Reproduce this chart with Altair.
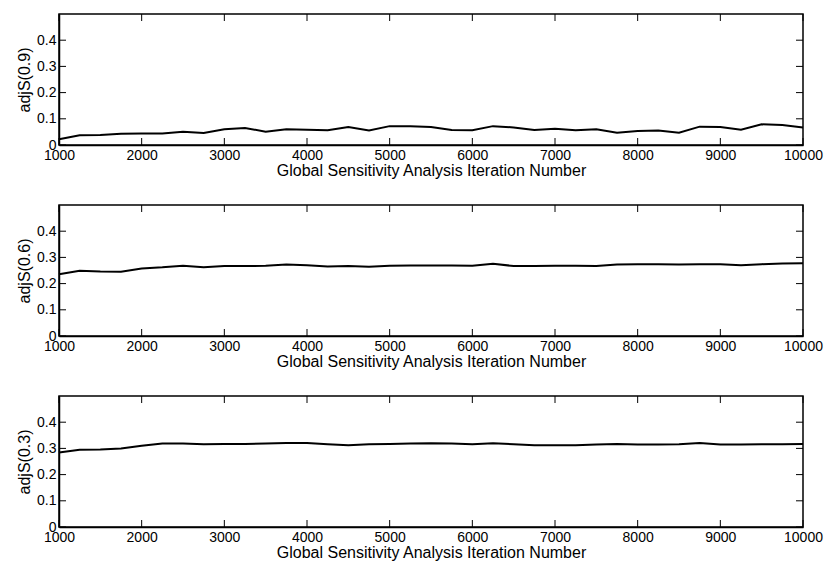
import altair as alt
import pandas as pd

# Sampled iteration counts and the three adjusted-sensitivity series
iterations = list(range(1000, 10001, 250))

adj_s_09 = [0.022, 0.037, 0.038, 0.043, 0.044, 0.044, 0.051, 0.046, 0.060, 0.065,
            0.051, 0.060, 0.058, 0.056, 0.069, 0.055, 0.072, 0.072, 0.069, 0.057,
            0.056, 0.072, 0.067, 0.057, 0.062, 0.056, 0.060, 0.047, 0.053, 0.055,
            0.047, 0.070, 0.069, 0.058, 0.079, 0.076, 0.067]

adj_s_06 = [0.236, 0.249, 0.246, 0.245, 0.258, 0.262, 0.268, 0.262, 0.267, 0.267,
            0.268, 0.273, 0.270, 0.265, 0.267, 0.264, 0.268, 0.269, 0.269, 0.269,
            0.268, 0.276, 0.267, 0.267, 0.268, 0.268, 0.267, 0.273, 0.274, 0.274,
            0.273, 0.274, 0.274, 0.270, 0.274, 0.277, 0.278]

adj_s_03 = [0.284, 0.295, 0.296, 0.300, 0.310, 0.319, 0.319, 0.316, 0.317, 0.317,
            0.319, 0.321, 0.321, 0.316, 0.312, 0.316, 0.317, 0.319, 0.320, 0.319,
            0.316, 0.320, 0.316, 0.312, 0.312, 0.312, 0.315, 0.317, 0.315, 0.315,
            0.316, 0.321, 0.315, 0.315, 0.316, 0.316, 0.317]

x_ticks = [1000, 2000, 3000, 4000, 5000, 6000, 7000, 8000, 9000, 10000]
y_ticks = [0, 0.1, 0.2, 0.3, 0.4]

W, H = 744, 131
TICK = 7
X_TITLE = "Global Sensitivity Analysis Iteration Number"


def panel(values, label):
    df = pd.DataFrame({"iteration": iterations, "adjS": values})
    x_enc = alt.X(
        "iteration:Q",
        scale=alt.Scale(domain=[1000, 10000], nice=False, zero=False),
        axis=alt.Axis(values=x_ticks, format="d", title=X_TITLE),
    )
    y_enc = alt.Y(
        "adjS:Q",
        scale=alt.Scale(domain=[0, 0.5], nice=False),
        axis=alt.Axis(values=y_ticks, format=".1~f", title=label),
    )
    line = alt.Chart(df).mark_line(color="black", strokeWidth=2).encode(x=x_enc, y=y_enc)

    # inward tick marks on all four sides of the frame
    xt = alt.Chart(pd.DataFrame({"iteration": x_ticks}))
    yt = alt.Chart(pd.DataFrame({"adjS": y_ticks}))
    tick_style = dict(color="black", strokeWidth=1)
    bottom = xt.mark_rule(**tick_style).encode(x=x_enc, y=alt.value(H), y2=alt.value(H - TICK))
    top = xt.mark_rule(**tick_style).encode(x=x_enc, y=alt.value(0), y2=alt.value(TICK))
    left = yt.mark_rule(**tick_style).encode(y=y_enc, x=alt.value(0), x2=alt.value(TICK))
    right = yt.mark_rule(**tick_style).encode(y=y_enc, x=alt.value(W), x2=alt.value(W - TICK))

    return alt.layer(line, bottom, top, left, right).properties(width=W, height=H)


chart = (
    alt.vconcat(
        panel(adj_s_09, "adjS(0.9)"),
        panel(adj_s_06, "adjS(0.6)"),
        panel(adj_s_03, "adjS(0.3)"),
        spacing=24,
    )
    .properties(padding={"left": 15, "top": 12, "right": 4, "bottom": 4})
    .configure(font="Liberation Sans", background="white")
    .configure_view(stroke="black", strokeWidth=1.5)
    .configure_axis(
        grid=False,
        ticks=False,
        domainColor="black",
        domainWidth=1.5,
        labelColor="black",
        titleColor="black",
        labelFontSize=14,
        titleFontSize=16,
        titleFontWeight="normal",
        labelFlush=False,
        labelPadding=2,
    )
    .configure_axisX(titlePadding=0, labelPadding=3)
    .configure_axisY(titlePadding=4, labelPadding=3)
)

chart.save("out.html", embed_options={"renderer": "svg", "actions": False})
